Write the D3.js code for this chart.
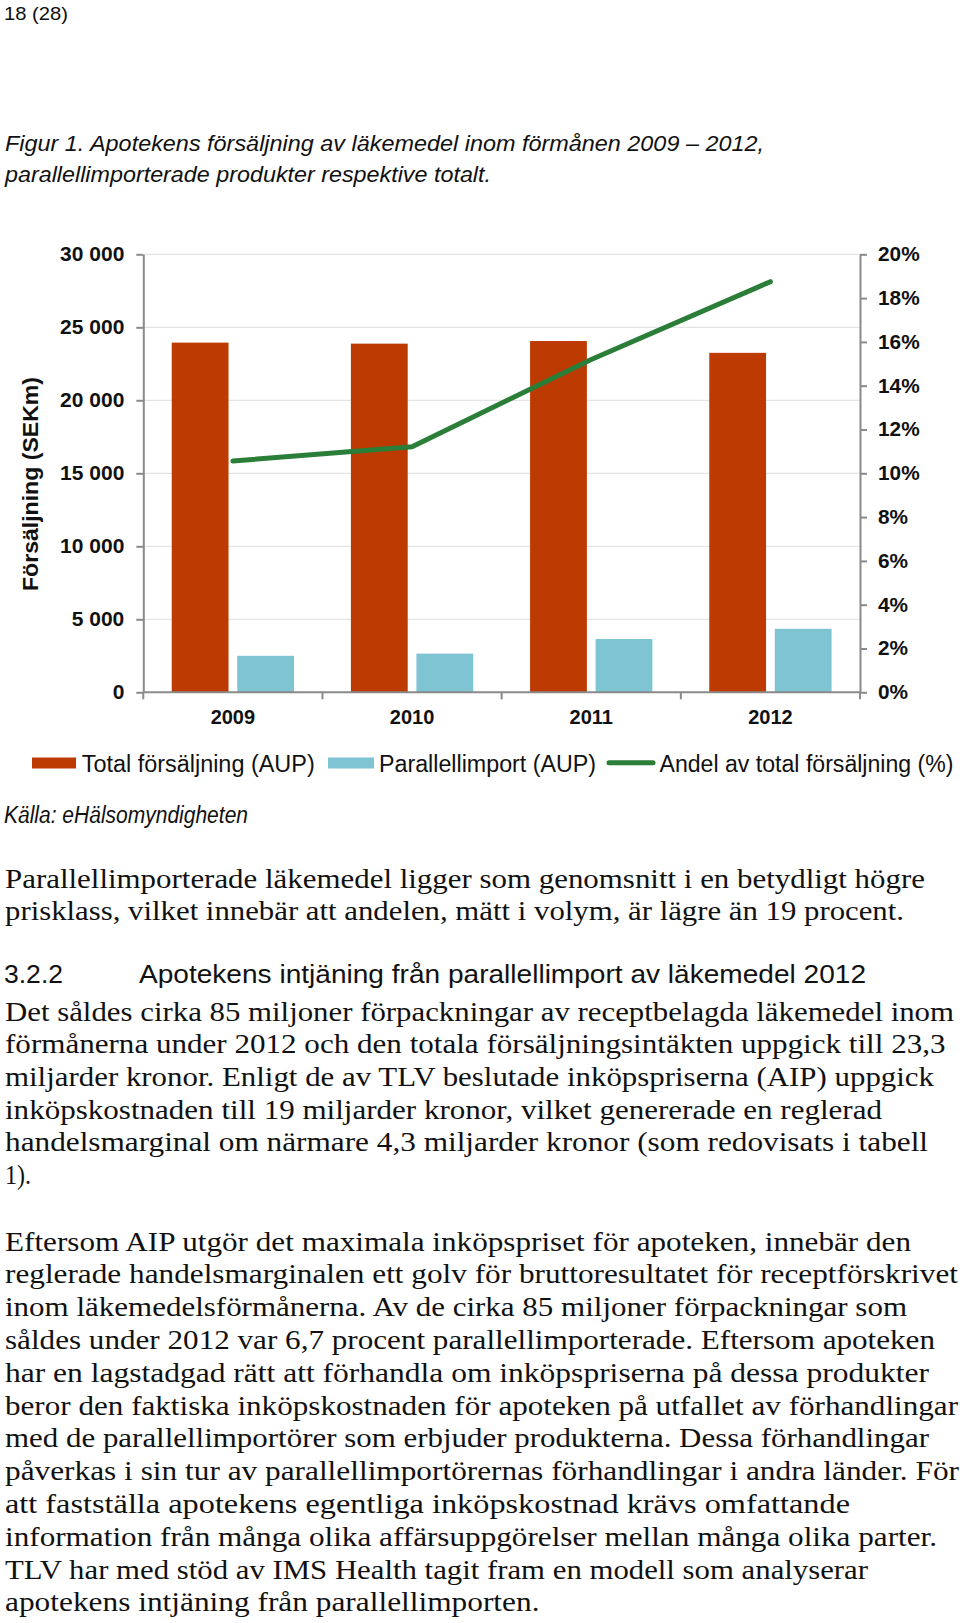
<!DOCTYPE html>
<html><head><meta charset="utf-8">
<script src="https://cdn.jsdelivr.net/npm/d3@7"></script>
<style>body{margin:0;background:#fff}svg{display:block}</style>
</head><body><svg id="c" width="960" height="1623"></svg>
<script>
// ---------- data ----------
const years = ["2009", "2010", "2011", "2012"];
const seriesNames = ["Total försäljning (AUP)", "Parallellimport (AUP)", "Andel av total försäljning (%)"];
const totalSales = [23950, 23880, 24060, 23250];
const parallelImport = [2500, 2650, 3650, 4350];
const shareOfTotal = [0.1056, 0.1121, 0.152, 0.1875];
const leftTicks = [0, 5000, 10000, 15000, 20000, 25000, 30000];
const rightTicks = [0, 0.02, 0.04, 0.06, 0.08, 0.10, 0.12, 0.14, 0.16, 0.18, 0.20];
const yAxisTitle = "Försäljning (SEKm)";

// ---------- text content ----------
const pageNo = "18 (28)";
const captionLines = ["Figur 1. Apotekens försäljning av läkemedel inom förmånen 2009 – 2012,",
  "parallellimporterade produkter respektive totalt."];
const sourceText = "Källa: eHälsomyndigheten";
const para1 = ["Parallellimporterade läkemedel ligger som genomsnitt i en betydligt högre",
  "prisklass, vilket innebär att andelen, mätt i volym, är lägre än 19 procent."];
const headingNo = "3.2.2";
const headingText = "Apotekens intjäning från parallellimport av läkemedel 2012";
const para2 = ["Det såldes cirka 85 miljoner förpackningar av receptbelagda läkemedel inom",
  "förmånerna under 2012 och den totala försäljningsintäkten uppgick till 23,3",
  "miljarder kronor. Enligt de av TLV beslutade inköpspriserna (AIP) uppgick",
  "inköpskostnaden till 19 miljarder kronor, vilket genererade en reglerad",
  "handelsmarginal om närmare 4,3 miljarder kronor (som redovisats i tabell",
  "1)."];
const para3 = ["Eftersom AIP utgör det maximala inköpspriset för apoteken, innebär den",
  "reglerade handelsmarginalen ett golv för bruttoresultatet för receptförskrivet",
  "inom läkemedelsförmånerna. Av de cirka 85 miljoner förpackningar som",
  "såldes under 2012 var 6,7 procent parallellimporterade. Eftersom apoteken",
  "har en lagstadgad rätt att förhandla om inköpspriserna på dessa produkter",
  "beror den faktiska inköpskostnaden för apoteken på utfallet av förhandlingar",
  "med de parallellimportörer som erbjuder produkterna. Dessa förhandlingar",
  "påverkas i sin tur av parallellimportörernas förhandlingar i andra länder. För",
  "att fastställa apotekens egentliga inköpskostnad krävs omfattande",
  "information från många olika affärsuppgörelser mellan många olika parter.",
  "TLV har med stöd av IMS Health tagit fram en modell som analyserar",
  "apotekens intjäning från parallellimporten."];

// ---------- layout ----------
const para1Ends = [925, 904];
const para2Ends = [954, 945.5, 934, 882, 928, 31];
const para3Ends = [911, 958, 907, 935, 929, 958, 929, 959, 850, 937, 868, 539.5];
const SANS = "'Liberation Sans', Arial, Helvetica, sans-serif";
const SERIF = "'Liberation Serif', 'Times New Roman', serif";
const colors = {total: "#bd3a02", parallel: "#7fc4d3", share: "#2a7e37", axis: "#8a8a8a", grid: "#dedede", text: "#111"};

const svg = d3.select("#c");
svg.append("rect").attr("width", 960).attr("height", 1623).attr("fill", "#fff");

function textLine(str, x, y, width, opts) {
  const t = svg.append("text").attr("x", x).attr("y", y).text(str)
    .attr("font-family", opts.family).attr("font-size", opts.size)
    .attr("fill", colors.text);
  if (opts.style) t.attr("font-style", opts.style);
  if (opts.weight) t.attr("font-weight", opts.weight);
  if (width) t.attr("textLength", width).attr("lengthAdjust", "spacingAndGlyphs");
  return t;
}
function stretch(sel, f) {
  sel.each(function () {
    const w = this.getComputedTextLength();
    d3.select(this).attr("textLength", w * f).attr("lengthAdjust", "spacingAndGlyphs");
  });
}

// page number & caption
textLine(pageNo, 4, 20, 64, {family: SANS, size: 19});
textLine(captionLines[0], 5, 150.5, 759, {family: SANS, size: 22, style: "italic"});
textLine(captionLines[1], 5, 182, 486, {family: SANS, size: 22, style: "italic"});

// ---------- chart ----------
const M = {left: 143.3, right: 860, top: 254.3, bottom: 692.3};
const x = d3.scaleBand().domain(years).range([M.left, M.right]).padding(0);
const xs = d3.scaleBand().domain(["total", "parallel"]).range([0, x.bandwidth()])
  .paddingInner(0.133).paddingOuter(0.434);
const yL = d3.scaleLinear().domain([0, 30000]).range([M.bottom, M.top]);
const yR = d3.scaleLinear().domain([0, 0.2]).range([M.bottom, M.top]);

// gridlines
svg.append("g").selectAll("line").data(leftTicks.filter(d => d > 0)).join("line")
  .attr("x1", M.left).attr("x2", M.right)
  .attr("y1", d => yL(d)).attr("y2", d => yL(d))
  .attr("stroke", colors.grid).attr("stroke-width", 1);

// bars
const rows = years.map((yr, i) => ({yr, total: totalSales[i], parallel: parallelImport[i], share: shareOfTotal[i]}));
const bars = svg.append("g");
bars.selectAll("rect.t").data(rows).join("rect").attr("class", "t")
  .attr("x", d => x(d.yr) + xs("total")).attr("width", xs.bandwidth())
  .attr("y", d => yL(d.total)).attr("height", d => yL(0) - yL(d.total))
  .attr("fill", colors.total);
bars.selectAll("rect.p").data(rows).join("rect").attr("class", "p")
  .attr("x", d => x(d.yr) + xs("parallel")).attr("width", xs.bandwidth())
  .attr("y", d => yL(d.parallel)).attr("height", d => yL(0) - yL(d.parallel))
  .attr("fill", colors.parallel);

// axes
const fmtL = d => d3.format(",")(d).replace(/,/g, " ");
function styleAxis(g) {
  g.select(".domain").attr("stroke", colors.axis).attr("stroke-width", 2);
  g.selectAll(".tick line").attr("stroke", colors.axis).attr("stroke-width", 2);
  g.selectAll(".tick text").attr("font-family", SANS).attr("font-size", 20)
    .attr("font-weight", "bold").attr("fill", colors.text);
}
const gL = svg.append("g").attr("transform", `translate(${M.left},0)`)
  .call(d3.axisLeft(yL).tickValues(leftTicks).tickSize(7).tickSizeOuter(0).tickPadding(12).tickFormat(fmtL))
  .call(styleAxis);
stretch(gL.selectAll(".tick text"), 1.05);
const gR = svg.append("g").attr("transform", `translate(${M.right},0)`)
  .call(d3.axisRight(yR).tickValues(rightTicks).tickSize(7).tickSizeOuter(0).tickPadding(11).tickFormat(d3.format(".0%")))
  .call(styleAxis);
stretch(gR.selectAll(".tick text"), 1.04);

// x axis (boundary ticks + centered labels)
const xg = svg.append("g");
xg.append("line").attr("x1", M.left).attr("x2", M.right).attr("y1", M.bottom).attr("y2", M.bottom)
  .attr("stroke", colors.axis).attr("stroke-width", 2);
const bounds = years.map(y => x(y)).concat([M.right]);
xg.selectAll("line.b").data(bounds).join("line").attr("class", "b")
  .attr("x1", d => d).attr("x2", d => d).attr("y1", M.bottom).attr("y2", M.bottom + 7)
  .attr("stroke", colors.axis).attr("stroke-width", 2);
xg.selectAll("text").data(years).join("text")
  .attr("x", d => x(d) + x.bandwidth() / 2).attr("y", 724)
  .attr("text-anchor", "middle").attr("font-family", SANS).attr("font-size", 20)
  .attr("font-weight", "bold").attr("fill", colors.text).text(d => d);

// line
const line = d3.line().x(d => x(d.yr) + x.bandwidth() / 2).y(d => yR(d.share));
svg.append("path").datum(rows).attr("d", line).attr("fill", "none")
  .attr("stroke", colors.share).attr("stroke-width", 5).attr("stroke-linecap", "round")
  .attr("stroke-linejoin", "round");

// y title
svg.append("text").attr("transform", "translate(37.5,484) rotate(-90)")
  .attr("text-anchor", "middle").attr("font-family", SANS).attr("font-size", 22)
  .attr("font-weight", "bold").attr("fill", colors.text)
  .attr("textLength", 214).attr("lengthAdjust", "spacingAndGlyphs").text(yAxisTitle);

// legend
const lg = svg.append("g");
lg.append("rect").attr("x", 32).attr("y", 757.5).attr("width", 44).attr("height", 11).attr("fill", colors.total);
lg.append("rect").attr("x", 328).attr("y", 757.5).attr("width", 46).attr("height", 11).attr("fill", colors.parallel);
lg.append("line").attr("x1", 609).attr("x2", 653).attr("y1", 762.7).attr("y2", 762.7)
  .attr("stroke", colors.share).attr("stroke-width", 5).attr("stroke-linecap", "round");
textLine(seriesNames[0], 81.7, 771.7, 233, {family: SANS, size: 23.5});
textLine(seriesNames[1], 379, 771.7, 217, {family: SANS, size: 23.5});
textLine(seriesNames[2], 659.5, 771.7, 294, {family: SANS, size: 23.5});

// source
textLine(sourceText, 4, 823.3, 244, {family: SANS, size: 23, style: "italic"});

// paragraphs
para1.forEach((s, i) => textLine(s, 5, 887.5 + i * 32.3, para1Ends[i] - 5, {family: SERIF, size: 26.5}));
textLine(headingNo, 4, 983.3, 59, {family: SANS, size: 26});
textLine(headingText, 139, 983.3, 727, {family: SANS, size: 26});
para2.forEach((s, i) => textLine(s, 5, 1020.7 + i * 32.6, para2Ends[i] - 5, {family: SERIF, size: 26.5}));
para3.forEach((s, i) => textLine(s, 5, 1250.5 + i * 32.8, para3Ends[i] - 5, {family: SERIF, size: 26.5}));
</script></body></html>
